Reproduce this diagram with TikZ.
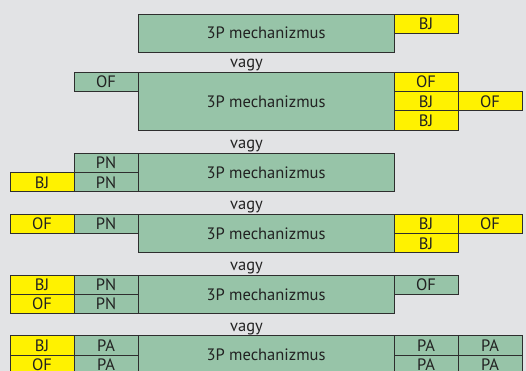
\documentclass[tikz,border=0pt]{standalone}
\usepackage{fontspec}
\setmainfont{PT Sans}
\usetikzlibrary{positioning}
\definecolor{bggray}{HTML}{E2E3E5}
\definecolor{mgreen}{HTML}{97C4A8}
\definecolor{myellow}{HTML}{FFF200}
\definecolor{edge}{HTML}{2E2E2E}
\definecolor{ink}{HTML}{222222}

\begin{document}
\begin{tikzpicture}[x=1pt,y=1pt,
  font=\fontsize{16.5}{18}\selectfont, text=ink,
  box/.style={draw=edge,line width=0.9pt,inner sep=0pt,outer sep=0pt},
  mech/.style={box,fill=mgreen,minimum width=256pt,anchor=north west},
  cell/.style={box,minimum width=64pt,minimum height=19.3pt},
  gcell/.style={cell,fill=mgreen},
  ycell/.style={cell,fill=myellow},
  vagy/.style={anchor=base}]
\useasboundingbox[fill=bggray] (0,0) rectangle (526,-371);

% 1
\node[mech,minimum height=38.5pt] (m1) at (138,-14) {3P mechanizmus};
\node[ycell,right=0pt of m1.north east,anchor=north west] (r1a) {BJ};
\node[vagy] (v1) at (246.5,-68) {vagy};

% 2
\node[mech,minimum height=58pt] (m2) at (138,-72.3) {3P mechanizmus};
\node[gcell,left=0pt of m2.north west,anchor=north east] (l2a) {OF};
\node[ycell,right=0pt of m2.north east,anchor=north west] (r2a) {OF};
\node[ycell,below=0pt of r2a] (r2b) {BJ};
\node[ycell,below=0pt of r2b] (r2c) {BJ};
\node[ycell,right=0pt of r2b] (s2b) {OF};
\node[vagy] (v2) at (246.5,-148.5) {vagy};

% 3
\node[mech,minimum height=38.6pt] (m3) at (138,-153.3) {3P mechanizmus};
\node[gcell,left=0pt of m3.north west,anchor=north east] (l3a) {PN};
\node[gcell,below=0pt of l3a] (l3b) {PN};
\node[ycell,left=0pt of l3b] (k3b) {BJ};
\node[vagy] (v3) at (246.5,-209) {vagy};

% 4
\node[mech,minimum height=38.6pt] (m4) at (138,-214.3) {3P mechanizmus};
\node[gcell,left=0pt of m4.north west,anchor=north east] (l4a) {PN};
\node[ycell,left=0pt of l4a] (k4a) {OF};
\node[ycell,right=0pt of m4.north east,anchor=north west] (r4a) {BJ};
\node[ycell,below=0pt of r4a] (r4b) {BJ};
\node[ycell,right=0pt of r4a] (s4a) {OF};
\node[vagy] (v4) at (246.5,-270) {vagy};

% 5
\node[mech,minimum height=38.6pt] (m5) at (138,-275) {3P mechanizmus};
\node[gcell,left=0pt of m5.north west,anchor=north east] (l5a) {PN};
\node[gcell,below=0pt of l5a] (l5b) {PN};
\node[ycell,left=0pt of l5a] (k5a) {BJ};
\node[ycell,left=0pt of l5b] (k5b) {OF};
\node[gcell,right=0pt of m5.north east,anchor=north west] (r5a) {OF};
\node[vagy] (v5) at (246.5,-331) {vagy};

% 6
\node[mech,minimum height=38.6pt] (m6) at (138,-335.7) {3P mechanizmus};
\node[gcell,left=0pt of m6.north west,anchor=north east] (l6a) {PA};
\node[gcell,below=0pt of l6a] (l6b) {PA};
\node[ycell,left=0pt of l6a] (k6a) {BJ};
\node[ycell,left=0pt of l6b] (k6b) {OF};
\node[gcell,right=0pt of m6.north east,anchor=north west] (r6a) {PA};
\node[gcell,below=0pt of r6a] (r6b) {PA};
\node[gcell,right=0pt of r6a] (s6a) {PA};
\node[gcell,right=0pt of r6b] (s6b) {PA};
\end{tikzpicture}
\end{document}
